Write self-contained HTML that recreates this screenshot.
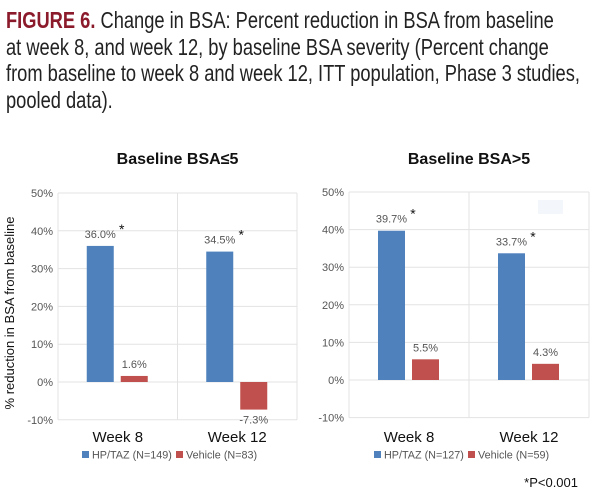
<!DOCTYPE html>
<html><head><meta charset="utf-8"><style>
body{margin:0;width:600px;height:501px;background:#fff;overflow:hidden;font-family:"Liberation Sans",sans-serif}
#hdr{position:absolute;left:6px;top:7px;width:800px;white-space:nowrap;transform:scaleX(0.795);transform-origin:0 0;font-family:"Liberation Sans",sans-serif;font-size:23px;line-height:26.5px;color:#222}
#hdr b{color:#8b1a2b}
svg{position:absolute;left:0;top:0}
</style></head><body>
<div id="hdr"><b>FIGURE 6.</b> Change in BSA: Percent reduction in BSA from baseline<br>at week 8, and week 12, by baseline BSA severity (Percent change<br>from baseline to week 8 and week 12, ITT population, Phase 3 studies,<br>pooled data).</div>
<svg id="c" width="600" height="501"></svg>
<script>
const categories=["Week 8","Week 12"];
const leftHP=[36.0,34.5];
const leftVeh=[1.6,-7.3];
const rightHP=[39.7,33.7];
const rightVeh=[5.5,4.3];
const tickLabels=["50%","40%","30%","20%","10%","0%","-10%"];
const tickValues=[50,40,30,20,10,0,-10];
const leftLegend=["HP/TAZ (N=149)","Vehicle (N=83)"];
const rightLegend=["HP/TAZ (N=127)","Vehicle (N=59)"];
const NS="http://www.w3.org/2000/svg";
const svg=document.getElementById('c');
function mk(t,a,txt){const e=document.createElementNS(NS,t);for(const k in a)e.setAttribute(k,a[k]);if(txt!=null)e.textContent=txt;svg.appendChild(e);return e;}
function chart(o){
  const y=v=>o.y0-(v)*(o.y0-o.y50)/50;
  const x0=o.x0,x1=o.x1,w=(x1-x0)/2;
  let t=mk('text',{x:(x0+x1)/2,y:164,'text-anchor':'middle','font-size':'16','font-weight':'bold',fill:'#111'},o.title);
  
  tickValues.forEach((v,i)=>{
    let l=mk('line',{x1:x0,x2:x1,y1:y(v),y2:y(v),stroke:'#e3e3e3','stroke-width':1});
    
    let tt=mk('text',{x:x0-5,y:y(v)+4,'text-anchor':'end','font-size':'11',fill:'#555'},tickLabels[i]);
    
  });
  [x0,x0+w,x1].forEach(xx=>{let l=mk('line',{x1:xx,x2:xx,y1:y(50),y2:y(-10),stroke:'#e3e3e3'});
    });
  categories.forEach((c,i)=>{
    const cx=x0+w*i+w/2;
    [[o.hp[i],'#4f81bd',-31,true],[o.veh[i],'#c0504d',3,false]].forEach(([v,col,off,star])=>{
      const top=Math.min(y(v),y(0)),h=Math.abs(y(v)-y(0));
      let r=mk('rect',{x:cx+off,y:top,width:27,height:h,fill:col});
      
      
      const ly=v>=0?y(v)-8:y(v)+14;
      let lb=mk('text',{x:cx+off+13.5,y:ly,'text-anchor':'middle','font-size':'11',fill:'#555'},v.toFixed(1)+'%');
      
      if(star){let s=mk('text',{x:cx+off+35,y:y(v)-12,'text-anchor':'middle','font-size':'14',fill:'#111'},'*');
        }
    });
    let xl=mk('text',{x:cx,y:442,'text-anchor':'middle','font-size':'15',fill:'#111'},c);
    
  });
  const lx=o.lx;
  let a=mk('rect',{x:lx,y:451,width:7,height:7,fill:'#4f81bd'});
  let at=mk('text',{x:lx+10,y:458.5,'font-size':'10.8',fill:'#555'},o.leg[0]);
  let b=mk('rect',{x:lx+94,y:451,width:7,height:7,fill:'#c0504d'});
  let bt=mk('text',{x:lx+104,y:458.5,'font-size':'10.8',fill:'#555'},o.leg[1]);
}
chart({x0:58,x1:297,y50:193,y0:382,lx:82,hp:leftHP,veh:leftVeh,title:"Baseline BSA≤5",leg:leftLegend});
chart({x0:349,x1:589,y50:192,y0:380,lx:374,hp:rightHP,veh:rightVeh,title:"Baseline BSA>5",leg:rightLegend});
let ya=mk('text',{x:0,y:0,transform:'translate(14,313) rotate(-90)','text-anchor':'middle','font-size':'13',fill:'#111'},'% reduction in BSA from baseline');

let bg=mk('rect',{x:538,y:200,width:25,height:14,fill:'#f3f6fb'});
let pn=mk('text',{x:578,y:487,'text-anchor':'end','font-size':'13',fill:'#111'},'*P<0.001');

</script>
</body></html>
